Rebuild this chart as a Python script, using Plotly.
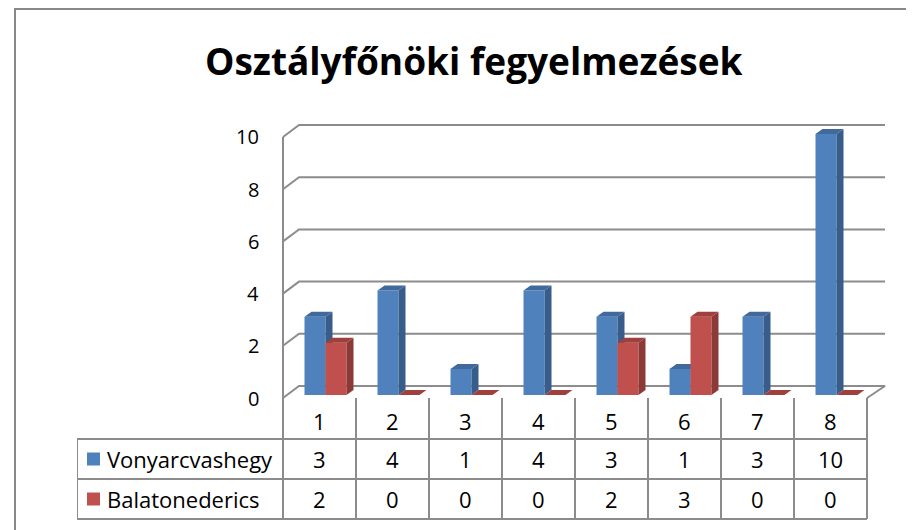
import plotly.graph_objects as go

# ---------------- data ----------------
categories = [1, 2, 3, 4, 5, 6, 7, 8]
series_names = ["Vonyarcvashegy", "Balatonederics"]
vonyarc = [3, 4, 1, 4, 3, 1, 3, 10]
balaton = [2, 0, 0, 0, 2, 3, 0, 0]
y_ticks = [0, 2, 4, 6, 8, 10]
title_text = "Osztályfőnöki fegyelmezések"

# ---------------- geometry (pixel calibration, screenshot pixels) ----------------
W, H = 914, 530
PAGE_OFF = 8       # page body margin offset of the figure in the screenshot
PX_X0 = 283.0      # pixel of category boundary 0.5
PX_PER_CAT = 73.0
PX_Y0 = 398.0      # pixel of value 0 (front)
PX_PER_UNIT = 26.1
PLOT_L, PLOT_R, PLOT_T, PLOT_B = 77, 892, 116, 522

def ux(px):   # screenshot pixel -> x data
    return 0.5 + (px - PX_X0) / PX_PER_CAT

def uy(py):   # screenshot pixel -> y data
    return (PX_Y0 - py) / PX_PER_UNIT

def fx(px):   # screenshot pixel -> paper x
    return (px - PAGE_OFF) / W

def fy(py):   # screenshot pixel -> paper y
    return 1 - (py - PAGE_OFF) / H

DX_WALL = 16 / PX_PER_CAT
DY_WALL = 12 / PX_PER_UNIT
DX_BAR = 7 / PX_PER_CAT
DY_BAR = 5 / PX_PER_UNIT
BAR_W = 21 / PX_PER_CAT
BASE = 3 / PX_PER_UNIT
OFF_BLUE = -15 / PX_PER_CAT
OFF_RED = 6 / PX_PER_CAT

ncat = len(categories)
x_first = categories[0] - 0.5
x_last = categories[-1] + 0.5
x_back_right = ux(885)

GRID = "#8c8c8c"
BLUE, BLUE_SIDE, BLUE_TOP = "#4f81bd", "#385d8a", "#41699c"
RED, RED_SIDE, RED_TOP = "#c0504d", "#8b3a38", "#a0403d"
FONT = "Open Sans"

fig = go.Figure()

# ---------------- back wall gridlines & floor ----------------
gx, gy = [], []
for v in y_ticks:
    if v == 0:
        continue
    gx += [x_first, x_first + DX_WALL, x_back_right, None]
    gy += [v, v + DY_WALL, v + DY_WALL, None]
gx += [x_first, x_first, None]
gy += [0, y_ticks[-1], None]
gx += [x_first, x_first + DX_WALL, x_back_right, x_last, None]
gy += [0, DY_WALL, DY_WALL, 0, None]
fig.add_trace(go.Scatter(x=gx, y=gy, mode="lines", line=dict(color=GRID, width=2),
                         hoverinfo="skip", showlegend=False, zorder=-1))

# ---------------- bars ----------------
def faces(vals, off):
    sx, sy, tx, ty = [], [], [], []
    for c, v in zip(categories, vals):
        l = c + off
        r = l + BAR_W
        top = BASE + v
        sx += [r, r + DX_BAR, r + DX_BAR, r, r, None]
        sy += [BASE, BASE + DY_BAR, top + DY_BAR, top, BASE, None]
        tx += [l, r, r + DX_BAR, l + DX_BAR, l, None]
        ty += [top, top, top + DY_BAR, top + DY_BAR, top, None]
    return sx, sy, tx, ty

for vals, off, cf, cs, ct, z, name in [
    (vonyarc, OFF_BLUE, BLUE, BLUE_SIDE, BLUE_TOP, 0, series_names[0]),
    (balaton, OFF_RED, RED, RED_SIDE, RED_TOP, 2, series_names[1]),
]:
    fig.add_trace(go.Bar(x=categories, y=vals, base=BASE, offset=off, width=BAR_W,
                         marker=dict(color=cf, line=dict(width=0)), name=name,
                         showlegend=False, zorder=z))
    sx, sy, tx, ty = faces(vals, off)
    fig.add_trace(go.Scatter(x=sx, y=sy, mode="lines", fill="toself", fillcolor=cs,
                             line=dict(width=0, color=cs), hoverinfo="skip",
                             showlegend=False, zorder=z + 1))
    fig.add_trace(go.Scatter(x=tx, y=ty, mode="lines", fill="toself", fillcolor=ct,
                             line=dict(width=0, color=ct), hoverinfo="skip",
                             showlegend=False, zorder=z + 1))

# ---------------- y tick labels ----------------
annotations = []
for v in y_ticks:
    annotations.append(dict(x=x_first, y=v, xref="x", yref="y", text=str(v),
                            showarrow=False, xanchor="right", yanchor="middle",
                            xshift=-22, font=dict(family=FONT, size=20, color="#000")))

# ---------------- data table ----------------
row_edges = [0, uy(439), uy(479), uy(519)]
x_legend_left = ux(77)
shapes = []
tl = dict(color=GRID, width=2)
for k in (1, 2, 3):
    shapes.append(dict(type="line", xref="x", yref="y", x0=x_legend_left, x1=x_last,
                       y0=row_edges[k], y1=row_edges[k], line=tl))
for i in range(ncat + 1):
    xv = x_first + i
    shapes.append(dict(type="line", xref="x", yref="y", x0=xv, x1=xv,
                       y0=0, y1=row_edges[3], line=tl))
shapes.append(dict(type="line", xref="x", yref="y", x0=x_legend_left, x1=x_legend_left,
                   y0=row_edges[1], y1=row_edges[3], line=tl))

def mid(a, b):
    return (a + b) / 2

tfont = dict(family=FONT, size=22, color="#000")
for c in categories:
    annotations.append(dict(x=c, y=mid(row_edges[0], row_edges[1]), xref="x", yref="y",
                            text=str(c), showarrow=False, font=tfont, yshift=-2))
for row, vals in enumerate([vonyarc, balaton]):
    ym = mid(row_edges[row + 1], row_edges[row + 2])
    for c, v in zip(categories, vals):
        annotations.append(dict(x=c, y=ym, xref="x", yref="y", text=str(v),
                                showarrow=False, font=tfont))
    annotations.append(dict(x=ux(105), y=ym, xref="x", yref="y", text=series_names[row],
                            showarrow=False, xanchor="left", font=tfont))

fig.add_trace(go.Scatter(
    x=[ux(93.5), ux(93.5)],
    y=[mid(row_edges[1], row_edges[2]), mid(row_edges[2], row_edges[3])],
    mode="markers", marker=dict(symbol="square", size=13, color=[BLUE, RED],
                                line=dict(width=0)),
    hoverinfo="skip", showlegend=False, zorder=5))

# ---------------- title ----------------
annotations.append(dict(x=fx(474), y=fy(61), xref="paper", yref="paper",
                        text="<b>" + title_text + "</b>", showarrow=False,
                        xanchor="center", yanchor="middle",
                        font=dict(family=FONT, size=37, color="#000")))

# ---------------- frame ----------------
shapes.append(dict(type="rect", xref="paper", yref="paper", x0=fx(15), y0=-0.2,
                   x1=1.2, y1=fy(9), line=dict(color="#888888", width=2),
                   fillcolor="rgba(0,0,0,0)", layer="below"))

fig.update_layout(
    width=W, height=H,
    margin=dict(l=0, r=0, t=0, b=0),
    paper_bgcolor="white", plot_bgcolor="white",
    barmode="overlay",
    showlegend=False,
    xaxis=dict(domain=[fx(PLOT_L), fx(PLOT_R)], range=[ux(PLOT_L), ux(PLOT_R)],
               visible=False, fixedrange=True),
    yaxis=dict(domain=[fy(PLOT_B), fy(PLOT_T)], range=[uy(PLOT_B), uy(PLOT_T)],
               visible=False, fixedrange=True),
    shapes=shapes,
    annotations=annotations,
)

fig.write_html("out.html")
